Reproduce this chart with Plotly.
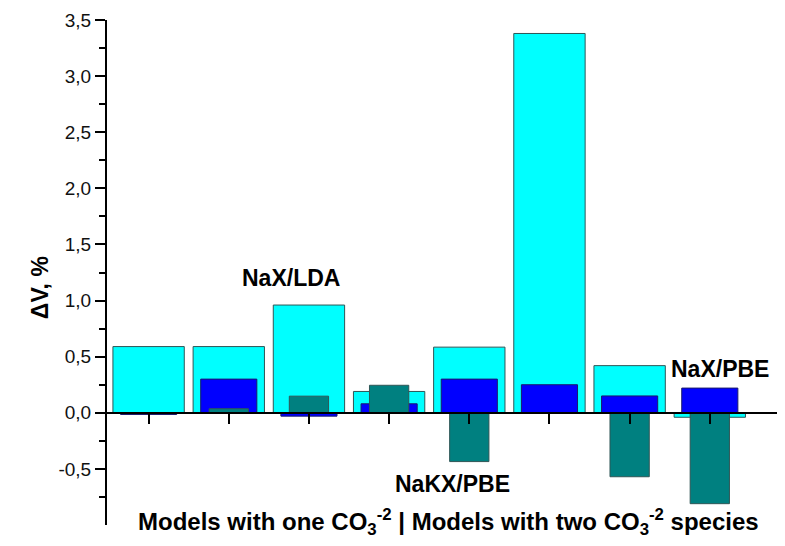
import plotly.graph_objects as go

categories = [1, 2, 3, 4, 5, 6, 7, 8]
cyan_values = [0.59, 0.59, 0.96, 0.19, 0.585, 3.38, 0.42, -0.04]
blue_values = [-0.015, 0.30, -0.03, 0.08, 0.30, 0.25, 0.15, 0.22]
teal_values = [0.0, 0.036, 0.148, 0.245, -0.435, 0.0, -0.57, -0.81]

ytick_vals = [-0.5, 0.0, 0.5, 1.0, 1.5, 2.0, 2.5, 3.0, 3.5]
ytick_text = ["-0,5", "0,0", "0,5", "1,0", "1,5", "2,0", "2,5", "3,0", "3,5"]
minor_vals = [-0.75, -0.25, 0.25, 0.75, 1.25, 1.75, 2.25, 2.75, 3.25]

FONT = "Liberation Sans, Arial, sans-serif"
EDGE = "#2f5656"

fig = go.Figure()
fig.add_trace(go.Bar(x=categories, y=cyan_values, width=0.89,
                     marker=dict(color="#00FFFF", line=dict(color=EDGE, width=1)),
                     showlegend=False))
fig.add_trace(go.Bar(x=categories, y=blue_values, width=0.70,
                     marker=dict(color="#0000FF", line=dict(color="#1a1a6a", width=1)),
                     showlegend=False))
fig.add_trace(go.Bar(x=categories, y=teal_values, width=0.49,
                     marker=dict(color="#008080", line=dict(color=EDGE, width=1)),
                     showlegend=False))

y_min, y_max = -1.0, 3.5
zero_pos = (0 - y_min) / (y_max - y_min)

fig.update_layout(
    width=777, height=538,
    margin=dict(l=99, r=0, t=12, b=21),
    paper_bgcolor="white", plot_bgcolor="white",
    barmode="overlay",
    font=dict(family=FONT, color="black"),
    xaxis=dict(range=[0.481, 8.938], anchor="free", position=zero_pos,
               showline=True, linecolor="black", linewidth=2,
               ticks="outside", ticklen=10, tickwidth=2, tickcolor="black",
               tickvals=categories, showticklabels=False,
               showgrid=False, zeroline=False),
    yaxis=dict(range=[y_min, y_max], showline=True, linecolor="black", linewidth=2,
               ticks="outside", ticklen=10, tickwidth=2, tickcolor="black",
               tickvals=ytick_vals, ticktext=ytick_text, automargin=False,
               tickfont=dict(size=19, family=FONT, color="#111"),
               minor=dict(tickvals=minor_vals,
                          ticks="outside", ticklen=6, tickwidth=2, tickcolor="black"),
               showgrid=False, zeroline=False),
)

bold = dict(family=FONT, size=23, color="black")
fig.add_annotation(x=2.779, y=1.197, xref="x", yref="y", text="<b>NaX/LDA</b>",
                   showarrow=False, font=bold)
fig.add_annotation(x=4.787, y=-0.635, xref="x", yref="y", text="<b>NaKX/PBE</b>",
                   showarrow=False, font=bold)
fig.add_annotation(x=8.128, y=0.386, xref="x", yref="y", text="<b>NaX/PBE</b>",
                   showarrow=False, font=bold)
fig.add_annotation(x=(448 - 107) / 678, y=0.006, xref="paper", yref="paper", yanchor="middle",
                   text="<b>Models with one CO<sub>3</sub><sup>-2</sup> | Models with two CO<sub>3</sub><sup>-2</sup> species</b>",
                   showarrow=False, font=dict(family=FONT, size=24, color="black"))
fig.add_annotation(x=(25 - 107) / 678, y=0.469, xref="paper", yref="paper", textangle=-90,
                   text="<b>ΔV, %</b>", showarrow=False, font=dict(family=FONT, size=23, color="black"))

fig.write_html("out.html")
